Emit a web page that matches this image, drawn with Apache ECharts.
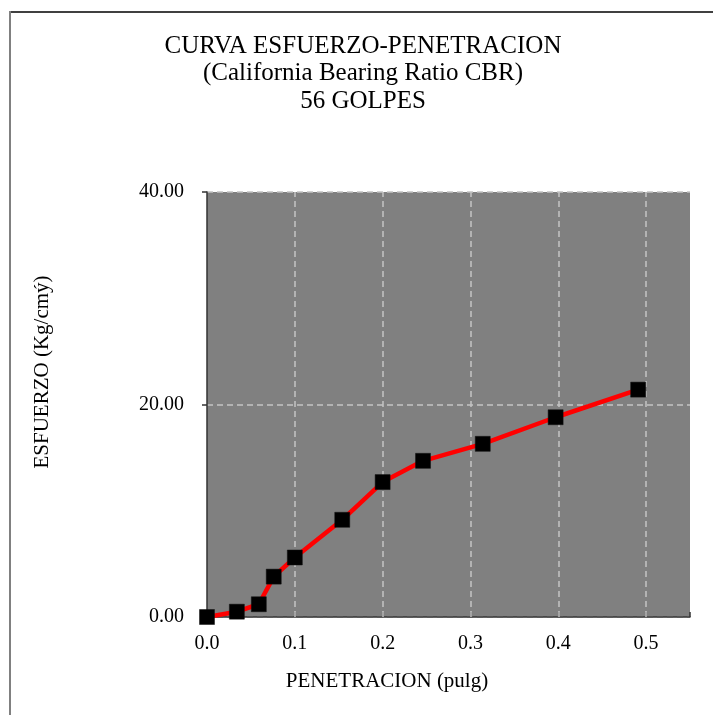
<!DOCTYPE html>
<html>
<head>
<meta charset="utf-8">
<script src="https://cdn.jsdelivr.net/npm/echarts@6/dist/echarts.min.js"></script>
<style>html,body{margin:0;padding:0;background:#fff;}#c{width:713px;height:715px;}</style>
</head>
<body>
<div id="c"></div>
<script>
const titleLines = ['CURVA ESFUERZO-PENETRACION', '(California Bearing Ratio CBR)', '56 GOLPES'];
const xName = 'PENETRACION (pulg)';
const yName = 'ESFUERZO (Kg/cmý)';
const penetracion = [0, 0.034, 0.059, 0.076, 0.1, 0.154, 0.2, 0.246, 0.314, 0.397, 0.491];
const esfuerzo = [0, 0.5, 1.2, 3.8, 5.6, 9.15, 12.7, 14.7, 16.3, 18.8, 21.4];
const xTicks = [0, 0.1, 0.2, 0.3, 0.4, 0.5];
const yTicks = [0, 20, 40];

const FONT = '"Liberation Serif", "Times New Roman", serif';
const chart = echarts.init(document.getElementById('c'));
const points = penetracion.map((x, i) => [x, esfuerzo[i]]);
const dash = { color: '#c4c4c4', type: [6, 4], width: 1.5 };

chart.setOption({
  animation: false,
  backgroundColor: '#ffffff',
  grid: { left: 207, right: 23, top: 192, bottom: 98, show: true, backgroundColor: '#808080', borderWidth: 0 },
  xAxis: {
    type: 'value', min: 0, max: 0.55, interval: 0.1,
    axisLine: { show: true, lineStyle: { color: '#333', width: 1.5 } },
    axisTick: { show: true, inside: true, length: 5, lineStyle: { color: '#333', width: 1.5 } },
    axisLabel: {
      margin: 17, fontFamily: FONT, fontSize: 20, color: '#000',
      formatter: v => xTicks.some(t => Math.abs(t - v) < 1e-9) ? v.toFixed(1) : ''
    },
    splitLine: { show: false }
  },
  yAxis: {
    type: 'value', min: 0, max: 40, interval: 20,
    axisLine: { show: true, lineStyle: { color: '#333', width: 1.5 } },
    axisTick: { show: true, inside: false, length: 5, lineStyle: { color: '#333', width: 1.5 } },
    axisLabel: {
      margin: 23, fontFamily: FONT, fontSize: 20, color: '#000',
      formatter: v => yTicks.includes(v) ? v.toFixed(2) : ''
    },
    splitLine: { show: true, lineStyle: dash }
  },
  series: [{
    type: 'line',
    data: points,
    symbol: 'rect', symbolSize: 15,
    itemStyle: { color: '#000', borderColor: '#111', borderWidth: 0.5 },
    lineStyle: { color: '#ff0000', width: 4.5 },
    z: 3,
    markLine: {
      silent: true, symbol: 'none', label: { show: false }, z: 1,
      lineStyle: dash,
      data: xTicks.filter(t => t > 0).map(t => ({ xAxis: t }))
    }
  }],
  graphic: [
    { type: 'line', shape: { x1: 9, y1: 12, x2: 713, y2: 12 }, style: { stroke: '#404040', lineWidth: 2 } },
    { type: 'line', shape: { x1: 10, y1: 11, x2: 10, y2: 715 }, style: { stroke: '#808080', lineWidth: 2 } },
    { type: 'text', x: 363, y: 46, style: { text: titleLines[0], fontFamily: FONT, fontSize: 25, fill: '#000', align: 'center', verticalAlign: 'middle' } },
    { type: 'text', x: 363, y: 73, style: { text: titleLines[1], fontFamily: FONT, fontSize: 25, fill: '#000', align: 'center', verticalAlign: 'middle' } },
    { type: 'text', x: 363, y: 101, style: { text: titleLines[2], fontFamily: FONT, fontSize: 25, fill: '#000', align: 'center', verticalAlign: 'middle' } },
    { type: 'text', x: 387, y: 681, style: { text: xName, fontFamily: FONT, fontSize: 21, fill: '#000', align: 'center', verticalAlign: 'middle' } },
    { type: 'text', x: 42, y: 372, rotation: Math.PI / 2, style: { text: yName, fontFamily: FONT, fontSize: 21, fill: '#000', align: 'center', verticalAlign: 'middle' } }
  ]
});
</script>
</body>
</html>
